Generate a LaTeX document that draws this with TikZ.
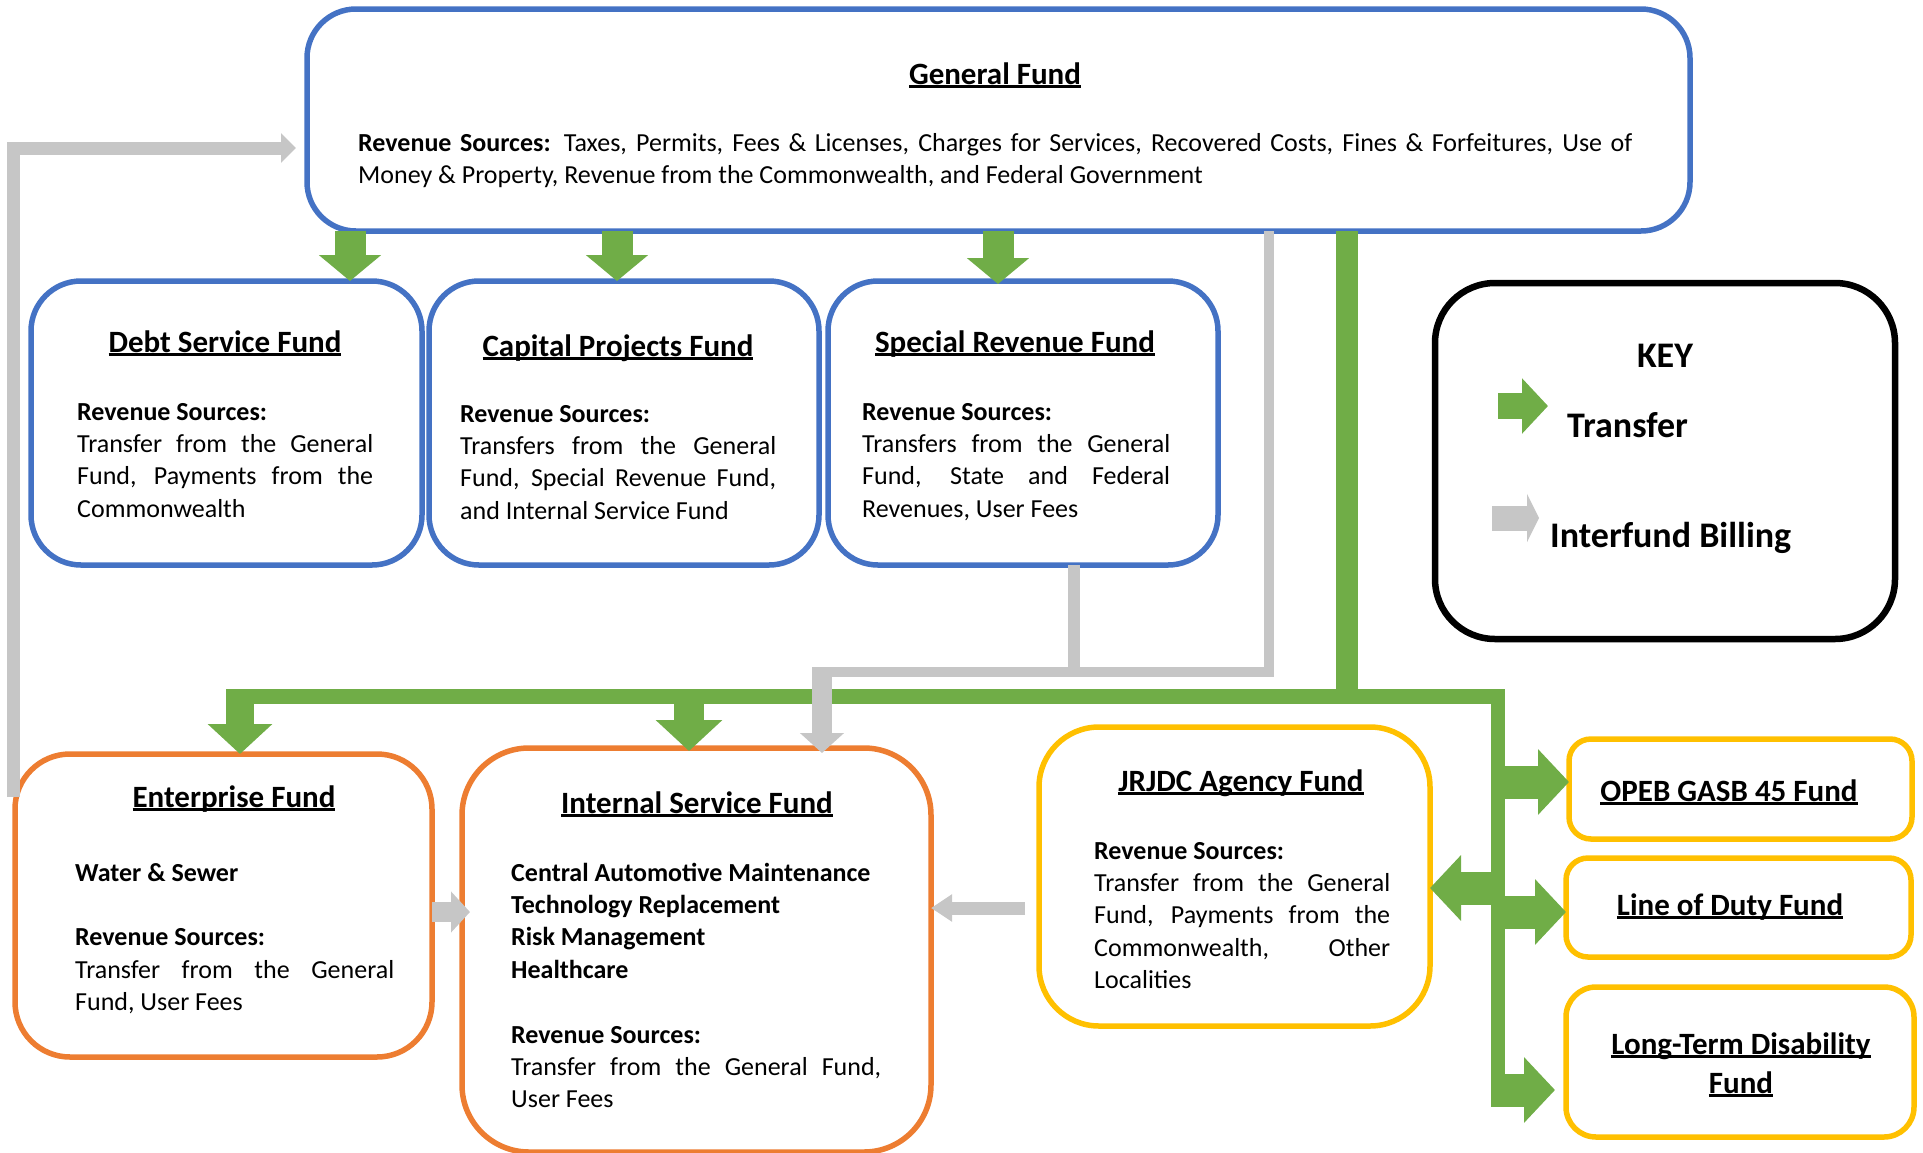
\documentclass[tikz,border=0pt]{standalone}
\usepackage{fontspec}
\setmainfont{Carlito}
\usetikzlibrary{arrows.meta, calc}
\definecolor{fundblue}{HTML}{4472C4}
\definecolor{fundorange}{HTML}{ED7D31}
\definecolor{fundgold}{HTML}{FFC000}
\definecolor{xfergreen}{HTML}{70AD47}
\definecolor{billgray}{HTML}{C6C6C6}
\newcommand{\fundul}[1]{\setbox0=\hbox{#1}\rlap{\rule[-0.12em]{\wd0}{0.075em}}\box0}

\begin{document}
\begin{tikzpicture}[x=1pt, y=-1pt,
    fund/.style={draw=#1, line width=5.5pt, inner sep=0pt, outer sep=0pt},
    title/.style={anchor=base, inner sep=0pt, font=\fontsize{31}{38}\selectfont\bfseries},
    body/.style={anchor=base west, inner sep=0pt, text width=#1, align=justify,
        font=\fontsize{26}{32.4}\selectfont,
        execute at begin node={\hyphenpenalty=10000 \tolerance=9999 }},
    keytext/.style={anchor=base west, inner sep=0pt, font=\fontsize{36}{43}\selectfont\bfseries},
    xfer/.style={draw=xfergreen, line width=#1},
    bill/.style={draw=billgray, line width=#1}]
    \useasboundingbox (0,0) rectangle (1923,1152);

    % fund boxes
    \node[fund=fundblue, rounded corners=49pt, minimum width=1383pt, minimum height=222pt] (gf) at (998.5,120) {};
    \node[fund=fundblue, rounded corners=50pt, minimum width=391pt, minimum height=284pt] (debt) at (226.5,423) {};
    \node[fund=fundblue, rounded corners=50pt, minimum width=390pt, minimum height=284pt] (cap) at (624,423) {};
    \node[fund=fundblue, rounded corners=50pt, minimum width=390pt, minimum height=284pt] (spr) at (1023,423) {};
    \node[fund=black, line width=6.5pt, rounded corners=60pt, minimum width=460pt, minimum height=356pt] (key) at (1665,461) {};
    \node[fund=fundorange, rounded corners=55pt, minimum width=417pt, minimum height=303pt] (ent) at (223.5,905.5) {};
    \node[fund=fundorange, rounded corners=67pt, minimum width=469pt, minimum height=404pt] (isf) at (696.5,950) {};
    \node[fund=fundgold, rounded corners=60pt, minimum width=391pt, minimum height=299pt] (jr) at (1234.5,876.5) {};
    \node[fund=fundgold, rounded corners=22pt, minimum width=343pt, minimum height=100pt] (opeb) at (1740.5,789) {};
    \node[fund=fundgold, rounded corners=22pt, minimum width=345pt, minimum height=99pt] (lod) at (1738.5,907.5) {};
    \node[fund=fundgold, rounded corners=30pt, minimum width=348pt, minimum height=150pt] (ltd) at (1740,1062) {};

    % texts
    \node[title] (gft) at (995,84) {\fundul{General Fund}};
    \node[body=1274pt] (gfb) at (358,151) {\textbf{Revenue Sources:} Taxes, Permits, Fees \& Licenses, Charges for Services, Recovered Costs, Fines \& Forfeitures, Use of\linebreak Money \& Property, Revenue from the Commonwealth, and Federal Government};
    \node[title] (debtt) at (225,352) {\fundul{Debt Service Fund}};
    \node[body=296pt] (debtb) at (77,420) {\textbf{Revenue Sources:}\\Transfer from the General\linebreak Fund, Payments from the\linebreak Commonwealth};
    \node[title] (capt) at (618,356) {\fundul{Capital Projects Fund}};
    \node[body=316pt] (capb) at (460,422) {\textbf{Revenue Sources:}\\Transfers from the General\linebreak Fund, Special Revenue Fund,\linebreak and Internal Service Fund};
    \node[title] (sprt) at (1015,352) {\fundul{Special Revenue Fund}};
    \node[body=308pt] (sprb) at (862,420) {\textbf{Revenue Sources:}\\Transfers from the General\linebreak Fund, State and Federal\linebreak Revenues, User Fees};
    \node[title] (entt) at (234,807) {\fundul{Enterprise Fund}};
    \node[body=319pt] (entb) at (75,881) {\textbf{Water \& Sewer}\\[32.4pt]\textbf{Revenue Sources:}\\Transfer from the General\linebreak Fund, User Fees};
    \node[title] (isft) at (697,813) {\fundul{Internal Service Fund}};
    \node[body=370pt] (isfb) at (511,881) {\textbf{Central Automotive Maintenance}\\\textbf{Technology Replacement}\\\textbf{Risk Management}\\\textbf{Healthcare}\\[32.4pt]\textbf{Revenue Sources:}\\Transfer from the General Fund,\linebreak User Fees};
    \node[title] (jrt) at (1241,791) {\fundul{JRJDC Agency Fund}};
    \node[body=296pt] (jrb) at (1094,859) {\textbf{Revenue Sources:}\\Transfer from the General\linebreak Fund, Payments from the\linebreak Commonwealth, Other\linebreak Localities};
    \node[title] (opebt) at (1729,801) {\fundul{OPEB GASB 45 Fund}};
    \node[title] (lodt) at (1730,915) {\fundul{Line of Duty Fund}};
    \node[title] (ltdt) at (1741,1054) {\fundul{Long-Term Disability}};
    \node[title] (ltdf) at (1741,1093) {\fundul{Fund}};

    % key
    \node[keytext, anchor=base] (keyt) at (1665,367) {KEY};
    \node[keytext] (keyx) at (1567,437) {Transfer};
    \node[keytext] (keyb) at (1550,547) {Interfund Billing};
    \coordinate (kx1) at (1498,406);
    \coordinate (kx2) at (1548,406);
    \coordinate (kb1) at (1492,518);
    \coordinate (kb2) at (1539,518);
    \draw[xfer=26pt, -{Triangle[width=54pt,length=26pt]}] (kx1) -- (kx2);
    \draw[bill=25pt, -{Triangle[width=48pt,length=12pt]}] (kb1) -- (kb2);

    % transfers
    \coordinate (c1) at (350,0);
    \coordinate (c2) at (617,0);
    \coordinate (c3) at (998,0);
    \coordinate (hub) at (1347,696);
    \coordinate (barl) at (226,696);
    \coordinate (barr) at (1505,696);
    \coordinate (ce) at (240,0);
    \coordinate (ci) at (689,0);
    \coordinate (sptop) at (1498,689);
    \coordinate (spbot) at (1498,1107);
    \coordinate (r1) at (0,782);
    \coordinate (r2) at (0,912);
    \coordinate (r3) at (0,1090);
    \coordinate (r4) at (0,888);
    \draw[xfer=31pt, -{Triangle[width=61pt,length=26pt]}] (gf.south -| c1) -- (debt.north -| c1);
    \draw[xfer=31pt, -{Triangle[width=61pt,length=26pt]}] (gf.south -| c2) -- (cap.north -| c2);
    \draw[xfer=31pt, -{Triangle[width=61pt,length=26pt]}] (gf.south -| c3) -- ($(spr.north -| c3)+(0,3)$);
    \draw[xfer=22pt] (gf.south -| hub) -- (hub);
    \draw[xfer=15pt] (barl) -- (barr);
    \draw[xfer=14pt] (sptop) -- (spbot);
    \draw[xfer=28pt, -{Triangle[width=63pt,length=30pt]}] (ce |- barl) -- (ent.north -| ce);
    \draw[xfer=30pt, -{Triangle[width=65pt,length=31pt]}] (ci |- barl) -- ($(isf.north -| ci)+(0,3)$);
    \draw[xfer=33pt, -{Triangle[width=64pt,length=31pt]}] (sptop |- r1) -- (opeb.west |- r1);
    \draw[xfer=33pt, -{Triangle[width=64pt,length=31pt]}] (sptop |- r2) -- (lod.west |- r2);
    \draw[xfer=33pt, -{Triangle[width=64pt,length=31pt]}] (sptop |- r3) -- ($(ltd.west |- r3)+(-11,0)$);
    \draw[xfer=33pt, -{Triangle[width=64pt,length=31pt]}] (sptop |- r4) -- (jr.east |- r4);

    % interfund billing
    \coordinate (cs) at (1074,0);
    \coordinate (cg) at (1269,0);
    \coordinate (cb) at (822,0);
    \coordinate (gj) at (0,672);
    \coordinate (ge) at (0,912);
    \coordinate (gr) at (0,908);
    \draw[bill=12pt] (spr.south -| cs) -- (cs |- gj);
    \draw[bill=10pt] (gf.south -| cg) |- ($(cb |- gj)+(-7,0)$);
    \draw[bill=20pt, -{Triangle[width=43pt,length=20pt]}] ($(cb |- gj)+(0,-5)$) -- ($(isf.north -| cb)+(0,5)$);
    \draw[bill=13pt, -{Triangle[width=29pt,length=15pt]}] ($(ent.north west)+(-2,43)$) |- ($(gf.west)+(-11,28)$);
    \draw[bill=20pt, -{Triangle[width=40pt,length=19pt]}] (ent.east |- ge) -- ($(isf.west |- ge)+(8,0)$);
    \draw[bill=13pt, -{Triangle[width=26pt,length=21pt]}] ($(jr.west |- gr)+(-14,0)$) -- (isf.east |- gr);
\end{tikzpicture}
\end{document}
